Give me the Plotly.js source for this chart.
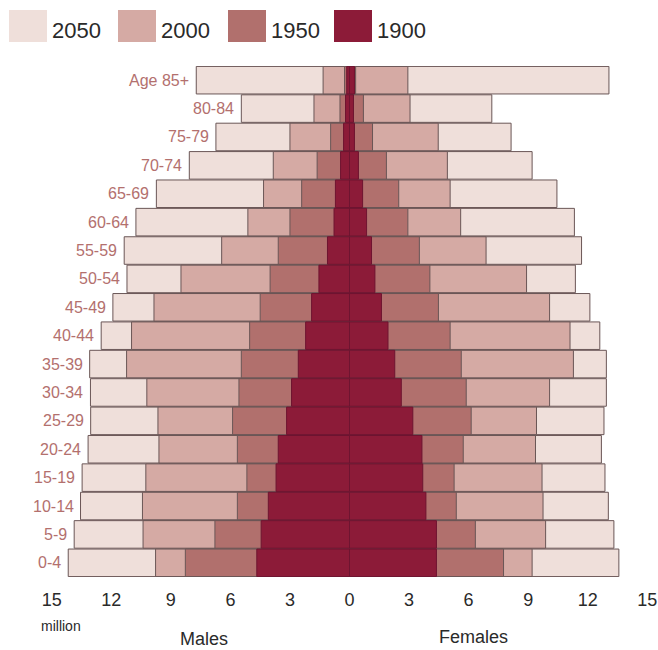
<!DOCTYPE html>
<html><head><meta charset="utf-8">
<script src="https://cdn.plot.ly/plotly-3.0.1.min.js"></script>
<style>html,body{margin:0;padding:0;background:#fff}</style>
</head><body><div id="chart" style="width:658px;height:650px"></div>
<script>
// Age groups, bottom to top
const ageGroups = ['0-4','5-9','10-14','15-19','20-24','25-29','30-34','35-39','40-44','45-49','50-54','55-59','60-64','65-69','70-74','75-79','80-84','Age 85+'];
const years = ['2050','2000','1950','1900'];
// Males (million)
const males2050 = [14.17,13.87,13.55,13.47,13.17,13.04,13.05,13.09,12.51,11.92,11.21,11.35,10.76,9.73,8.07,6.73,5.45,7.72];
const males2000 = [9.77,10.40,10.43,10.26,9.60,9.65,10.21,11.23,10.98,9.85,8.49,6.44,5.12,4.33,3.84,3.00,1.79,1.33];
const males1950 = [8.27,6.78,5.65,5.17,5.65,5.89,5.57,5.45,5.03,4.50,4.00,3.59,3.00,2.41,1.63,0.95,0.48,0.25];
const males1900 = [4.67,4.45,4.09,3.70,3.59,3.17,2.92,2.58,2.21,1.91,1.54,1.11,0.78,0.71,0.45,0.30,0.20,0.14];
// Females (million)
const females2050 = [13.57,13.32,13.04,12.87,12.69,12.82,12.94,12.94,12.61,12.11,11.38,11.69,11.33,10.45,9.20,8.14,7.17,13.07];
const females2000 = [9.20,9.88,9.75,9.70,9.37,9.42,10.08,11.28,11.11,10.08,8.92,6.88,5.60,5.07,4.93,4.47,3.05,2.94];
const females1950 = [7.76,6.34,5.38,5.27,5.73,6.13,5.88,5.63,5.07,4.48,4.05,3.52,2.94,2.48,1.86,1.16,0.70,0.31];
const females1900 = [4.38,4.38,3.85,3.69,3.65,3.19,2.61,2.28,1.94,1.61,1.28,1.11,0.86,0.66,0.45,0.25,0.20,0.25];
// Axis ticks
const tickValues = [-15,-12,-9,-6,-3,0,3,6,9,12,15];
const tickLabels = ['15','12','9','6','3','0','3','6','9','12','15'];

const colors = {'2050':'#efdfda','2000':'#d5aaa4','1950':'#b1706d','1900':'#8c1b38'};
const edgeColors = {'2050':'#6a5656','2000':'#6a5656','1950':'#6a5656','1900':'#6e1430'};
const maleData = {'2050':males2050,'2000':males2000,'1950':males1950,'1900':males1900};
const femaleData = {'2050':females2050,'2000':females2000,'1950':females1950,'1900':females1900};

const FONT = '"Liberation Sans", Arial, sans-serif';
const W = 658, H = 650, T = 66, B = 73;
const plotTop = T, plotBottom = H - B;
const px = x => x / W;
const py = y => (plotBottom - y) / (plotBottom - plotTop);

const traces = [];
years.forEach(yr => {
  traces.push({type:'bar', orientation:'h', name:yr, y:ageGroups, x:maleData[yr].map(v=>-v),
    marker:{color:colors[yr], line:{color:edgeColors[yr], width:1}}, showlegend:false, hoverinfo:'skip'});
  traces.push({type:'bar', orientation:'h', name:yr, y:ageGroups, x:femaleData[yr],
    marker:{color:colors[yr], line:{color:edgeColors[yr], width:1}}, showlegend:false, hoverinfo:'skip'});
});

const annotations = ageGroups.map((a,i) => ({
  x:-males2050[i], y:a, xref:'x', yref:'y', xanchor:'right', yanchor:'middle', xshift:-5,
  text:a, showarrow:false, font:{family:FONT, size:16, color:'#b3706e'}
}));

const shapes = [];
const legendX = [9, 118, 228, 334];
years.forEach((yr,i) => {
  shapes.push({type:'rect', xref:'paper', yref:'paper', x0:px(legendX[i]), x1:px(legendX[i]+38), y0:py(42), y1:py(10),
    fillcolor:colors[yr], line:{width:0}});
  annotations.push({xref:'paper', yref:'paper', x:px(legendX[i]+41), y:py(30), xanchor:'left', yanchor:'middle',
    text:yr, showarrow:false, font:{family:FONT, size:22, color:'#2a2a2a'}});
});
annotations.push({xref:'paper', yref:'paper', x:px(61), y:py(626), xanchor:'center', yanchor:'middle',
  text:'million', showarrow:false, font:{family:FONT, size:14, color:'#2a2a2a'}});
annotations.push({xref:'paper', yref:'paper', x:px(204), y:py(639), xanchor:'center', yanchor:'middle',
  text:'Males', showarrow:false, font:{family:FONT, size:18, color:'#2a2a2a'}});
annotations.push({xref:'paper', yref:'paper', x:px(473), y:py(637), xanchor:'center', yanchor:'middle',
  text:'Females', showarrow:false, font:{family:FONT, size:18, color:'#2a2a2a'}});

const scale = 19.85, zeroPx = 349.5;
const layout = {
  width:W, height:H, margin:{l:0, r:0, t:T, b:B, pad:0},
  paper_bgcolor:'#fff', plot_bgcolor:'#fff',
  barmode:'overlay', bargap:0.03,
  showlegend:false,
  xaxis:{range:[-zeroPx/scale, (W-zeroPx)/scale], tickmode:'array', tickvals:tickValues, ticktext:tickLabels,
    showgrid:false, zeroline:false, showline:false, ticks:'', automargin:false, ticklabelstandoff:10,
    ticklabeloverflow:'allow',
    tickfont:{family:FONT, size:18, color:'#2a2a2a'}, fixedrange:true},
  yaxis:{type:'category', categoryorder:'array', categoryarray:ageGroups, range:[-0.5, ageGroups.length-0.5],
    showticklabels:false, showgrid:false, zeroline:false, showline:false, ticks:'', automargin:false, fixedrange:true},
  shapes:shapes, annotations:annotations
};
Plotly.newPlot('chart', traces, layout, {displayModeBar:false, staticPlot:true});
</script></body></html>
